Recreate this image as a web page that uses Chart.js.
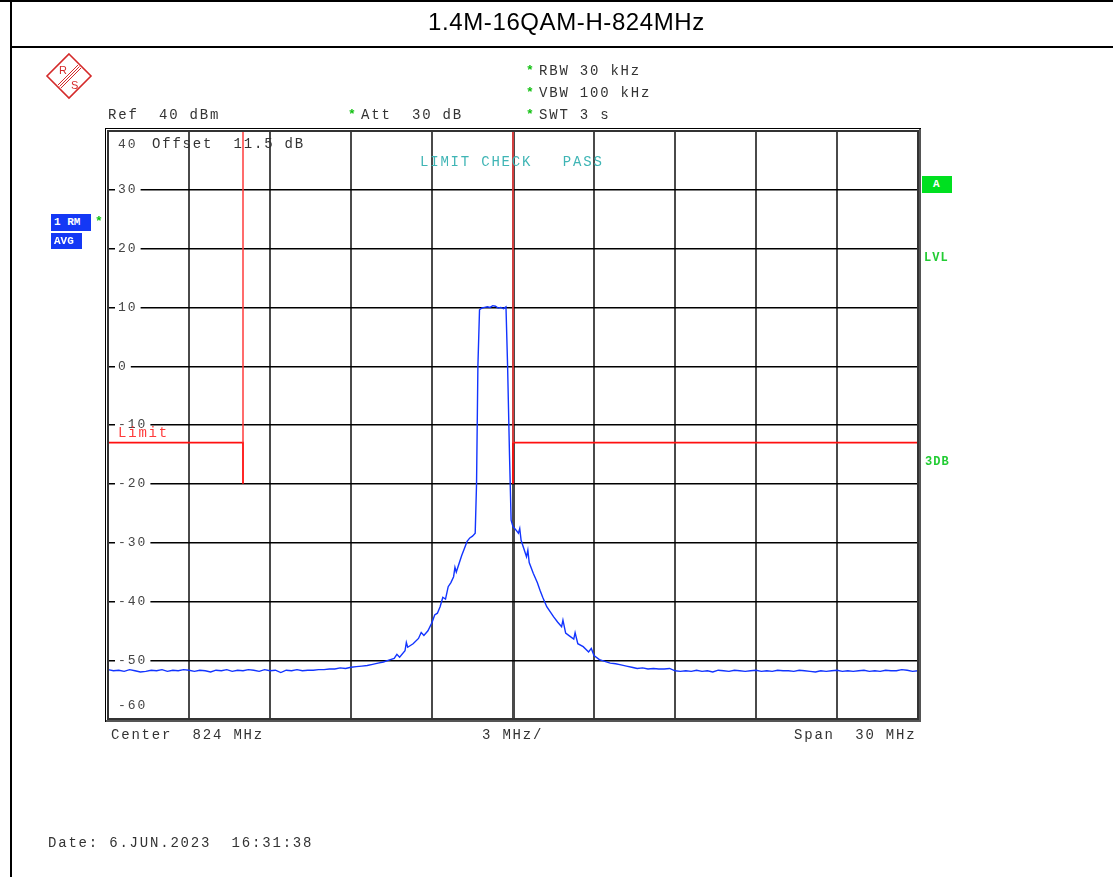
<!DOCTYPE html>
<html>
<head>
<meta charset="utf-8">
<script src="https://cdn.jsdelivr.net/npm/chart.js@4.4.0/dist/chart.umd.min.js"></script>
<style>
  html, body { margin: 0; padding: 0; background: #fff; }
  #page { position: relative; width: 1113px; height: 877px; overflow: hidden; background: #fff; }
  #spec { position: absolute; left: 0; top: 0; }
  .t { position: absolute; font: 14px 'Liberation Mono', monospace; letter-spacing: 1.8px; color: #333; white-space: pre; line-height: 16px; }
  .star { position: absolute; font: bold 13px 'Liberation Mono', monospace; color: #10c010; line-height: 16px; }
  .box { position: absolute; background: #1438f5; color: #fff; font: bold 11px 'Liberation Mono', monospace; line-height: 16px; padding-left: 3px; white-space: pre; box-sizing: border-box; }
  .grn { position: absolute; color: #22cc33; font: bold 12px 'Liberation Mono', monospace; line-height: 16px; letter-spacing: 1px; }
  .rule { position: absolute; background: #000; }
  #title { position: absolute; left: 12px; right: 0; top: 8px; height: 38px; line-height: 38px; text-align: center; font: 24px 'Liberation Sans', Arial, sans-serif; letter-spacing: 0.6px; color: #000; padding-left: 8px; }
</style>
</head>
<body>
<div id="page">
  <canvas id="spec" width="1113" height="877"></canvas>

  <div class="rule" style="left:0;top:0;width:1113px;height:2px"></div>
  <div class="rule" style="left:10px;top:0;width:2px;height:877px"></div>
  <div class="rule" style="left:10px;top:46px;width:1103px;height:2px"></div>
  <div id="title">1.4M-16QAM-H-824MHz</div>

  <svg style="position:absolute;left:44px;top:52px" width="50" height="48" viewBox="0 0 50 48">
    <polygon points="25,2 47,24 25,46 3,24" fill="none" stroke="#d42a2a" stroke-width="1.6"/>
    <line x1="14" y1="33" x2="34" y2="13" stroke="#d42a2a" stroke-width="1"/>
    <line x1="15.5" y1="34.5" x2="35.5" y2="14.5" stroke="#d42a2a" stroke-width="1"/>
    <line x1="17" y1="36" x2="37" y2="16" stroke="#d42a2a" stroke-width="1"/>
    <text x="15" y="22" font-family="Liberation Sans, Arial" font-size="11" fill="#d42a2a">R</text>
    <text x="27" y="37" font-family="Liberation Sans, Arial" font-size="11" fill="#d42a2a">S</text>
  </svg>

  <div class="star" style="left:526px;top:63px">*</div><div class="t" style="left:539px;top:63px">RBW 30 kHz</div>
  <div class="star" style="left:526px;top:85px">*</div><div class="t" style="left:539px;top:85px">VBW 100 kHz</div>
  <div class="star" style="left:526px;top:107px">*</div><div class="t" style="left:539px;top:107px">SWT 3 s</div>
  <div class="t" style="left:108px;top:107px">Ref  40 dBm</div>
  <div class="star" style="left:348px;top:107px">*</div><div class="t" style="left:361px;top:107px">Att  30 dB</div>

  <div class="t" style="left:152px;top:136px">Offset  11.5 dB</div>
  <div class="t" style="left:420px;top:154px;color:#3fb5b5">LIMIT CHECK   PASS</div>
  <div class="t" style="left:118px;top:425px;color:#ff3a3a">Limit</div>

  <div class="box" style="left:51px;top:214px;width:40px;height:17px">1 RM</div>
  <div class="star" style="left:95px;top:214px">*</div>
  <div class="box" style="left:51px;top:233px;width:31px;height:16px">AVG</div>

  <div class="box" style="left:922px;top:176px;width:30px;height:17px;background:#00e020;padding-left:11px">A</div>
  <div class="grn" style="left:924px;top:250px">LVL</div>
  <div class="grn" style="left:925px;top:454px">3DB</div>

  <div class="t" style="left:111px;top:727px">Center  824 MHz</div>
  <div class="t" style="left:482px;top:727px">3 MHz/</div>
  <div class="t" style="left:794px;top:727px">Span  30 MHz</div>
  <div class="t" style="left:48px;top:835px">Date: 6.JUN.2023  16:31:38</div>
</div>

<script>
/* ── Axis ticks ── */
const xTicks = [809, 812, 815, 818, 821, 824, 827, 830, 833, 836, 839];
const yTicks = [40, 30, 20, 10, 0, -10, -20, -30, -40, -50, -60];

/* ── Trace (MHz / dBm) ── */
const traceFreq = [
  809.0, 809.2, 809.4, 809.6, 809.8, 810.0, 810.2, 810.4, 810.6, 810.8,
  811.0, 811.2, 811.4, 811.6, 811.8, 812.0, 812.2, 812.4, 812.6, 812.8,
  813.0, 813.2, 813.4, 813.6, 813.8, 814.0, 814.2, 814.4, 814.6, 814.8,
  815.0, 815.2, 815.4, 815.6, 815.8, 816.0, 816.2, 816.4, 816.6, 816.8,
  817.0, 817.2, 817.4, 817.6, 817.8, 818.0, 818.2, 818.4, 818.6, 818.8,
  819.0, 819.2, 819.4, 819.6, 819.7, 819.8, 820.0, 820.05, 820.1, 820.3,
  820.5, 820.6, 820.7, 820.85, 821.0, 821.1, 821.2, 821.3, 821.4, 821.5,
  821.6, 821.7, 821.8, 821.85, 821.9, 822.0, 822.1, 822.2, 822.3, 822.4,
  822.5, 822.6, 822.65, 822.7, 822.76, 822.85, 822.95, 823.05, 823.15, 823.25,
  823.35, 823.45, 823.55, 823.65, 823.74, 823.8, 823.87, 823.93, 824.0, 824.1,
  824.2, 824.25, 824.3, 824.4, 824.5, 824.55, 824.6, 824.75, 824.9, 825.0,
  825.1, 825.25, 825.4, 825.5, 825.65, 825.8, 825.85, 825.95, 826.1, 826.25,
  826.3, 826.4, 826.6, 826.8, 826.9, 827.0, 827.2, 827.4, 827.6, 827.8,
  828.0, 828.2, 828.4, 828.6, 828.8, 829.0, 829.2, 829.4, 829.6, 829.8,
  830.0, 830.2, 830.4, 830.6, 830.8, 831.0, 831.2, 831.4, 831.6, 831.8,
  832.0, 832.2, 832.4, 832.6, 832.8, 833.0, 833.2, 833.4, 833.6, 833.8,
  834.0, 834.2, 834.4, 834.6, 834.8, 835.0, 835.2, 835.4, 835.6, 835.8,
  836.0, 836.2, 836.4, 836.6, 836.8, 837.0, 837.2, 837.4, 837.6, 837.8,
  838.0, 838.2, 838.4, 838.6, 838.8, 839.0
];
const traceLevel = [
  -51.6, -51.8, -51.7, -51.9, -51.6, -51.8, -52.0, -51.9, -51.7, -51.8,
  -51.6, -51.9, -51.7, -51.8, -51.6, -51.7, -51.9, -51.7, -51.8, -52.0,
  -51.7, -51.8, -51.6, -51.9, -51.7, -51.8, -51.6, -51.7, -51.9, -51.6,
  -51.8, -51.7, -52.1, -51.7, -51.8, -51.6, -51.8, -51.7, -51.7, -51.6,
  -51.6, -51.5, -51.5, -51.3, -51.4, -51.2, -51.1, -51.0, -50.9, -50.7,
  -50.5, -50.3, -50.0, -49.7, -49.0, -49.5, -48.4, -47.0, -47.8, -47.2,
  -46.3, -45.3, -45.8, -45.0, -43.6, -42.3, -42.0, -40.9, -39.3, -39.6,
  -37.5, -36.8, -35.8, -34.2, -35.0, -33.6, -32.2, -31.0, -29.8, -29.2,
  -28.9, -28.4, -20.0, 0.0, 9.6, 9.9, 10.0, 10.1, 10.0, 10.3,
  10.2, 9.9, 10.0, 9.8, 10.1, 0.0, -15.0, -26.2, -27.3, -27.8,
  -28.4, -27.6, -29.6, -31.0, -32.4, -31.3, -33.4, -35.2, -36.8, -38.1,
  -39.3, -40.9, -41.9, -42.6, -43.5, -44.3, -43.2, -45.4, -45.9, -46.4,
  -45.3, -47.2, -47.7, -48.6, -48.0, -49.2, -49.9, -50.2, -50.5, -50.6,
  -50.8, -51.0, -51.2, -51.4, -51.3, -51.5, -51.4, -51.5, -51.5, -51.4,
  -51.8, -51.9, -51.8, -51.9, -51.7, -51.9, -51.8, -52.0, -51.7, -51.8,
  -51.9, -51.7, -51.8, -51.9, -51.8, -51.7, -51.9, -51.8, -51.9, -51.7,
  -51.8, -51.8, -51.9, -51.7, -51.8, -51.9, -52.0, -51.8, -51.9, -51.8,
  -51.7, -51.9, -51.8, -51.9, -51.8, -51.7, -51.9, -51.8, -51.9, -51.7,
  -51.8, -51.8, -51.6, -51.7, -51.9, -51.8
];

/* ── Limit lines ── */
const limitLoFreq  = [809, 814, 814];
const limitLoLevel = [-13, -13, -20];
const limitHiFreq  = [824, 824, 839];
const limitHiLevel = [-20, -13, -13];
const markFreqs    = [814, 824];   // red frequency lines from top down to the limit
const markTop = 40, markBottom = -13;

const pts = (xs, ys) => xs.map((x, i) => ({ x: x, y: ys[i] }));

/* ── Frame + in-plot level labels ── */
const framePlugin = {
  id: 'frame',
  beforeDatasetsDraw(chart) {
    const { ctx, chartArea: a, scales: { y } } = chart;
    ctx.save();
    ctx.font = '13px "Liberation Mono", monospace';
    ctx.letterSpacing = '2px';
    ctx.textBaseline = 'middle';
    yTicks.forEach((v, i) => {
      let py = y.getPixelForValue(v);
      const txt = String(v);
      if (i === 0) py += 14;
      else if (i === yTicks.length - 1) py -= 13;
      else {
        const w = ctx.measureText(txt).width;
        ctx.fillStyle = '#fff';
        ctx.fillRect(a.left + 7, py - 5, w + 6, 10);
      }
      ctx.fillStyle = '#444';
      ctx.fillText(txt, a.left + 10, py);
    });
    ctx.restore();
  },
  afterDraw(chart) {
    const { ctx, chartArea: a } = chart;
    ctx.save();
    ctx.strokeStyle = '#000';
    ctx.lineWidth = 1;
    ctx.strokeRect(a.left - 2.5, a.top - 2.5, a.right - a.left + 5, a.bottom - a.top + 5);
    ctx.strokeStyle = '#333';
    ctx.lineWidth = 2;
    ctx.strokeRect(a.left, a.top, a.right - a.left, a.bottom - a.top);
    ctx.strokeStyle = '#555';
    ctx.lineWidth = 2;
    ctx.beginPath();
    ctx.moveTo(a.left - 2, a.bottom + 2); ctx.lineTo(a.right + 3, a.bottom + 2);
    ctx.moveTo(a.right + 2, a.top - 2); ctx.lineTo(a.right + 2, a.bottom + 3);
    ctx.stroke();
    ctx.restore();
  }
};

const markSets = markFreqs.map(f => ({
  data: [{ x: f, y: markTop }, { x: f, y: markBottom }],
  borderColor: '#ff3c3c', borderWidth: 1.5, pointRadius: 0, tension: 0
}));

new Chart(document.getElementById('spec'), {
  type: 'line',
  data: {
    datasets: [
      ...markSets,
      { data: pts(limitLoFreq, limitLoLevel), borderColor: '#ff1010', borderWidth: 1.8, pointRadius: 0, tension: 0 },
      { data: pts(limitHiFreq, limitHiLevel), borderColor: '#ff1010', borderWidth: 1.8, pointRadius: 0, tension: 0 },
      { data: pts(traceFreq, traceLevel), borderColor: '#1234ff', borderWidth: 1.4, pointRadius: 0, tension: 0 }
    ]
  },
  options: {
    responsive: false, animation: false, devicePixelRatio: 1,
    layout: { padding: { left: 108, top: 131, right: 195, bottom: 158 } },
    plugins: { legend: { display: false }, tooltip: { enabled: false } },
    scales: {
      x: {
        type: 'linear', min: 809, max: 839,
        afterBuildTicks: s => { s.ticks = xTicks.map(v => ({ value: v })); },
        ticks: { display: false },
        border: { display: false },
        grid: { drawTicks: false, color: '#4a4a4a', lineWidth: c => (c.index === 5 ? 3 : 2) }
      },
      y: {
        type: 'linear', min: -60, max: 40,
        afterBuildTicks: s => { s.ticks = yTicks.map(v => ({ value: v })); },
        ticks: { display: false },
        border: { display: false },
        grid: { drawTicks: false, color: '#000', lineWidth: 1.4 }
      }
    }
  },
  plugins: [framePlugin]
});
</script>
</body>
</html>
